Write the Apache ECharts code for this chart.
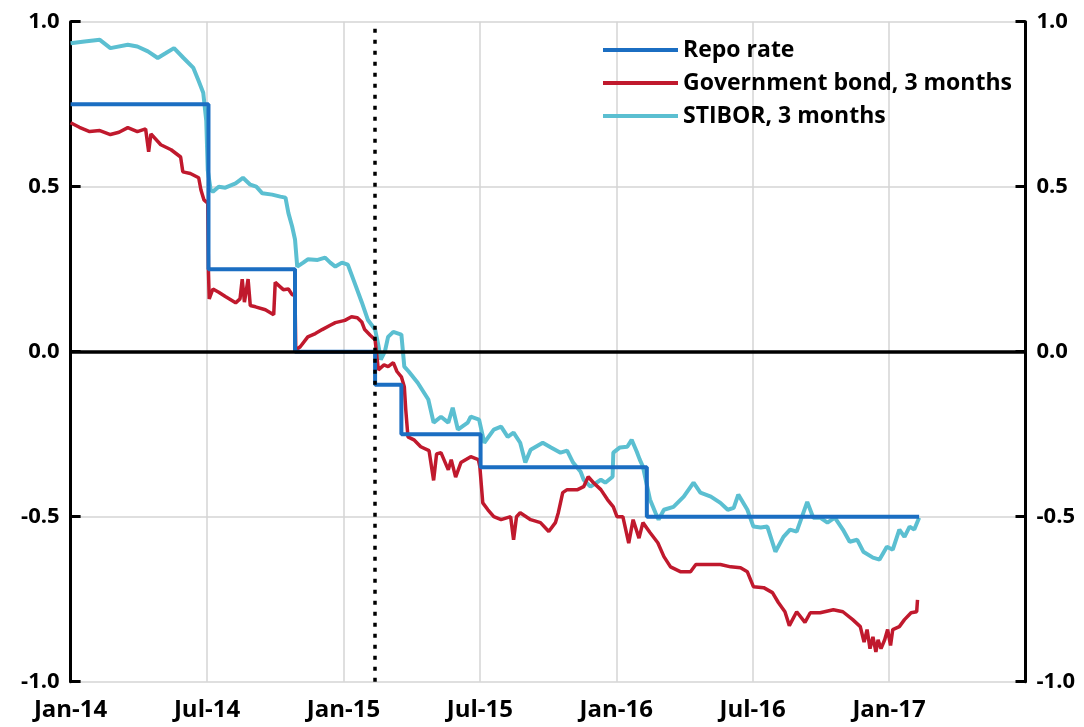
<!DOCTYPE html>
<html>
<head>
<meta charset="utf-8">
<script src="https://cdn.jsdelivr.net/npm/echarts@6/dist/echarts.min.js"></script>
<style>
  html, body { margin: 0; padding: 0; background: #fff; }
  #chart { width: 1084px; height: 727px; }
</style>
</head>
<body>
<div id="chart"></div>
<script>
// x axis runs in months since Jan-14, gridline every 6 months
const tickLabels = ['Jan-14', 'Jul-14', 'Jan-15', 'Jul-15', 'Jan-16', 'Jul-16', 'Jan-17'];

// Riksbank repo rate, changes on decision dates
const repoDates = ['2014-01-01', '2014-07-03', '2014-10-28', '2015-02-12', '2015-03-18', '2015-07-02', '2016-02-11', '2017-02-10'];
const repoValues = [0.75, 0.25, 0.00, -0.10, -0.25, -0.35, -0.50, -0.50];

// Government bond, 3 months
const bondDates = [
  '2014-01-01', '2014-01-13', '2014-01-27', '2014-02-09', '2014-02-22', '2014-03-05', '2014-03-17', '2014-03-30',
  '2014-04-10', '2014-04-14', '2014-04-17', '2014-04-30', '2014-05-14', '2014-05-27', '2014-05-30', '2014-06-09',
  '2014-06-20', '2014-06-23', '2014-06-27', '2014-07-02', '2014-07-03', '2014-07-04', '2014-07-09', '2014-07-17',
  '2014-07-26', '2014-08-09', '2014-08-15', '2014-08-18', '2014-08-21', '2014-08-26', '2014-08-29', '2014-09-05',
  '2014-09-18', '2014-09-29', '2014-10-01', '2014-10-12', '2014-10-19', '2014-10-24', '2014-10-28', '2014-10-29',
  '2014-11-04', '2014-11-14', '2014-11-24', '2014-12-03', '2014-12-14', '2014-12-21', '2015-01-03', '2015-01-12',
  '2015-01-20', '2015-01-26', '2015-01-30', '2015-02-06', '2015-02-12', '2015-02-16', '2015-02-23', '2015-02-28',
  '2015-03-07', '2015-03-12', '2015-03-18', '2015-03-22', '2015-03-24', '2015-03-27', '2015-04-04', '2015-04-13',
  '2015-04-24', '2015-04-30', '2015-05-04', '2015-05-10', '2015-05-20', '2015-05-24', '2015-05-30', '2015-06-06',
  '2015-06-19', '2015-06-29', '2015-07-01', '2015-07-05', '2015-07-12', '2015-07-20', '2015-07-30', '2015-08-12',
  '2015-08-16', '2015-08-20', '2015-08-25', '2015-09-08', '2015-09-21', '2015-10-02', '2015-10-11', '2015-10-15',
  '2015-10-21', '2015-10-27', '2015-11-10', '2015-11-18', '2015-11-24', '2015-12-01', '2015-12-11', '2015-12-20',
  '2015-12-28', '2016-01-02', '2016-01-10', '2016-01-18', '2016-01-24', '2016-02-01', '2016-02-06', '2016-02-15',
  '2016-02-25', '2016-03-04', '2016-03-13', '2016-03-27', '2016-04-09', '2016-04-16', '2016-05-02', '2016-05-19',
  '2016-06-02', '2016-06-15', '2016-06-24', '2016-07-02', '2016-07-16', '2016-07-28', '2016-08-05', '2016-08-14',
  '2016-08-20', '2016-08-30', '2016-09-10', '2016-09-17', '2016-09-30', '2016-10-18', '2016-10-31', '2016-11-13',
  '2016-11-23', '2016-11-28', '2016-12-02', '2016-12-06', '2016-12-10', '2016-12-14', '2016-12-17', '2016-12-21',
  '2016-12-26', '2016-12-30', '2017-01-03', '2017-01-06', '2017-01-15', '2017-01-22', '2017-01-31', '2017-02-07',
  '2017-02-08'
];
const bondValues = [
  0.694, 0.68, 0.667, 0.67, 0.658, 0.665, 0.679, 0.667,
  0.675, 0.606, 0.66, 0.627, 0.612, 0.59, 0.545, 0.54,
  0.527, 0.49, 0.46, 0.45, 0.24, 0.16, 0.19, 0.18,
  0.167, 0.148, 0.16, 0.22, 0.15, 0.22, 0.14, 0.136,
  0.127, 0.112, 0.21, 0.188, 0.19, 0.173, 0.17, 0.005,
  0.015, 0.045, 0.055, 0.067, 0.08, 0.088, 0.095, 0.106,
  0.103, 0.09, 0.067, 0.05, 0.036, -0.055, -0.04, -0.045,
  -0.033, -0.06, -0.076, -0.106, -0.176, -0.258, -0.267, -0.288,
  -0.30, -0.39, -0.31, -0.306, -0.358, -0.327, -0.38, -0.336,
  -0.318, -0.327, -0.348, -0.458, -0.479, -0.50, -0.509, -0.50,
  -0.57, -0.50, -0.488, -0.509, -0.518, -0.545, -0.518, -0.488,
  -0.427, -0.418, -0.418, -0.409, -0.379, -0.397, -0.418, -0.448,
  -0.47, -0.50, -0.50, -0.58, -0.509, -0.565, -0.518, -0.548,
  -0.579, -0.621, -0.652, -0.667, -0.667, -0.645, -0.645, -0.645,
  -0.652, -0.655, -0.667, -0.712, -0.715, -0.73, -0.76, -0.788,
  -0.83, -0.788, -0.82, -0.791, -0.791, -0.782, -0.788, -0.812,
  -0.833, -0.88, -0.842, -0.90, -0.864, -0.91, -0.873, -0.90,
  -0.873, -0.842, -0.89, -0.842, -0.833, -0.812, -0.791, -0.788,
  -0.752
];

// STIBOR, 3 months
const stiborDates = [
  '2014-01-01', '2014-01-20', '2014-02-09', '2014-02-22', '2014-03-17', '2014-03-30', '2014-04-13', '2014-04-26',
  '2014-05-07', '2014-05-18', '2014-05-31', '2014-06-13', '2014-06-20', '2014-06-26', '2014-06-30', '2014-07-02',
  '2014-07-06', '2014-07-09', '2014-07-17', '2014-07-26', '2014-08-09', '2014-08-19', '2014-08-29', '2014-09-06',
  '2014-09-14', '2014-09-27', '2014-10-08', '2014-10-15', '2014-10-19', '2014-10-24', '2014-10-28', '2014-10-31',
  '2014-11-08', '2014-11-14', '2014-11-27', '2014-12-07', '2014-12-14', '2014-12-21', '2014-12-30', '2015-01-07',
  '2015-01-16', '2015-01-26', '2015-02-03', '2015-02-12', '2015-02-16', '2015-02-19', '2015-02-24', '2015-02-28',
  '2015-03-07', '2015-03-18', '2015-03-22', '2015-03-28', '2015-04-09', '2015-04-23', '2015-04-30', '2015-05-10',
  '2015-05-20', '2015-05-26', '2015-06-02', '2015-06-15', '2015-06-19', '2015-06-30', '2015-07-07', '2015-07-20',
  '2015-07-30', '2015-08-08', '2015-08-16', '2015-08-25', '2015-09-01', '2015-09-08', '2015-09-24', '2015-10-05',
  '2015-10-18', '2015-10-27', '2015-11-04', '2015-11-14', '2015-11-18', '2015-11-27', '2015-12-11', '2015-12-17',
  '2015-12-27', '2015-12-28', '2016-01-06', '2016-01-16', '2016-01-22', '2016-01-29', '2016-02-02', '2016-02-06',
  '2016-02-15', '2016-02-22', '2016-02-26', '2016-03-04', '2016-03-17', '2016-03-31', '2016-04-13', '2016-04-22',
  '2016-05-06', '2016-05-19', '2016-05-29', '2016-06-06', '2016-06-12', '2016-06-24', '2016-07-02', '2016-07-12',
  '2016-07-21', '2016-08-01', '2016-08-12', '2016-08-21', '2016-08-30', '2016-09-13', '2016-09-21', '2016-09-30',
  '2016-10-10', '2016-10-20', '2016-10-31', '2016-11-09', '2016-11-19', '2016-11-27', '2016-12-10', '2016-12-19',
  '2016-12-29', '2017-01-06', '2017-01-15', '2017-01-22', '2017-01-29', '2017-02-04', '2017-02-10'
];
const stiborValues = [
  0.935, 0.94, 0.945, 0.92, 0.93, 0.925, 0.91, 0.89,
  0.905, 0.92, 0.89, 0.86, 0.82, 0.785, 0.70, 0.55,
  0.49, 0.485, 0.50, 0.497, 0.51, 0.527, 0.506, 0.50,
  0.48, 0.476, 0.47, 0.467, 0.42, 0.38, 0.34, 0.258,
  0.27, 0.28, 0.278, 0.285, 0.27, 0.258, 0.27, 0.264,
  0.21, 0.15, 0.097, 0.067, 0.02, -0.024, 0.0, 0.045,
  0.06, 0.052, -0.045, -0.06, -0.094, -0.145, -0.215, -0.197,
  -0.215, -0.17, -0.236, -0.215, -0.197, -0.206, -0.276, -0.236,
  -0.227, -0.258, -0.245, -0.276, -0.336, -0.297, -0.276, -0.29,
  -0.306, -0.30, -0.336, -0.364, -0.388, -0.409, -0.388, -0.397,
  -0.379, -0.306, -0.29, -0.288, -0.267, -0.303, -0.327, -0.348,
  -0.448, -0.488, -0.509, -0.479, -0.47, -0.439, -0.397, -0.427,
  -0.439, -0.458, -0.479, -0.473, -0.433, -0.479, -0.53, -0.533,
  -0.53, -0.606, -0.561, -0.539, -0.545, -0.455, -0.503, -0.503,
  -0.518, -0.503, -0.539, -0.576, -0.57, -0.606, -0.624, -0.63,
  -0.591, -0.60, -0.539, -0.561, -0.53, -0.539, -0.503
];

// date when the repo rate turned negative
const negativeRateDate = '2015-02-12';

// months since Jan 2014 (fractional)
function toMonths(s) {
  const [y, m, d] = s.split('-').map(Number);
  const dim = new Date(y, m, 0).getDate();
  return (y - 2014) * 12 + (m - 1) + (d - 1) / dim;
}

function pairs(dates, values) {
  return dates.map((d, i) => [toMonths(d), values[i]]);
}

const FONT = '"Open Sans", "Noto Sans", sans-serif';
const GRID_COLOR = '#d4d4d4';

const chart = echarts.init(document.getElementById('chart'), null, { renderer: 'canvas' });

function yAxisBase(position) {
  return {
    type: 'value',
    position: position,
    min: -1,
    max: 1,
    interval: 0.5,
    axisLine: { show: true, lineStyle: { color: '#000', width: 3 } },
    axisTick: { show: true, inside: true, length: 10, lineStyle: { color: '#000', width: 3 } },
    axisLabel: {
      margin: 11,
      color: '#000',
      fontFamily: FONT,
      fontWeight: 'bold',
      fontSize: 22,
      formatter: v => v.toFixed(1)
    },
    splitLine: { show: position === 'left', lineStyle: { color: GRID_COLOR, width: 1.5 } }
  };
}

const option = {
  animation: false,
  grid: { left: 70.6, right: 58.5, top: 21.7, bottom: 45.3, containLabel: false },
  legend: {
    orient: 'vertical',
    left: 598,
    top: 33,
    icon: 'rect',
    itemWidth: 75,
    itemHeight: 4,
    itemGap: 9,
    data: ['Repo rate', 'Government bond, 3 months', 'STIBOR, 3 months'],
    textStyle: {
      color: '#000',
      fontFamily: FONT,
      fontWeight: 'bold',
      fontSize: 23,
      lineHeight: 24
    }
  },
  xAxis: {
    type: 'value',
    min: 0,
    max: 42,
    interval: 6,
    axisLine: { show: false },
    axisTick: { show: false },
    splitLine: { show: true, lineStyle: { color: GRID_COLOR, width: 1.5 } },
    axisLabel: {
      margin: 16,
      color: '#000',
      fontFamily: FONT,
      fontWeight: 'bold',
      fontSize: 24,
      showMaxLabel: true,
      formatter: v => tickLabels[Math.round(v / 6)] || ''
    }
  },
  yAxis: [yAxisBase('left'), yAxisBase('right')],
  series: [
    {
      name: 'STIBOR, 3 months',
      type: 'line',
      showSymbol: false,
      color: '#5bbfd1',
      lineStyle: { width: 4 },
      data: pairs(stiborDates, stiborValues),
      markLine: {
        silent: true,
        symbol: 'none',
        label: { show: false },
        lineStyle: { color: '#000', width: 3.5, type: 'solid' },
        data: [{ yAxis: 0 }]
      }
    },
    {
      name: 'Government bond, 3 months',
      type: 'line',
      showSymbol: false,
      color: '#c0192d',
      lineStyle: { width: 3.5 },
      data: pairs(bondDates, bondValues)
    },
    {
      name: 'Repo rate',
      type: 'line',
      step: 'end',
      showSymbol: false,
      color: '#1b6ec2',
      lineStyle: { width: 4 },
      data: pairs(repoDates, repoValues),
      markLine: {
        silent: true,
        symbol: 'none',
        label: { show: false },
        lineStyle: { color: '#000', width: 3.5, type: [4, 7] },
        data: [{ xAxis: toMonths(negativeRateDate) }]
      }
    }
  ]
};

chart.setOption(option);
</script>
</body>
</html>
